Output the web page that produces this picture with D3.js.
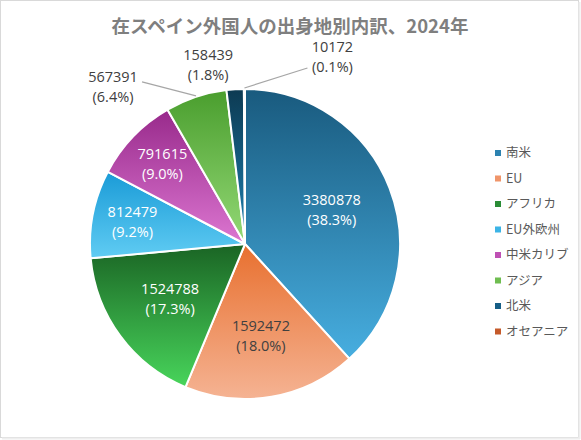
<!DOCTYPE html>
<html>
<head>
<meta charset="utf-8">
<script src="https://cdn.jsdelivr.net/npm/d3@7"></script>
<style>
  body { margin: 0; background: #fff; }
  svg { display: block; font-family: "Noto Sans CJK JP", "Noto Sans", sans-serif; }
  .lab { font-family: "Open Sans", "Noto Sans CJK JP", sans-serif; }
</style>
</head>
<body>
<div id="chart"></div>
<script>
// data
const regions = ["南米", "EU", "アフリカ", "EU外欧州", "中米カリブ", "アジア", "北米", "オセアニア"];
const populations = [3380878, 1592472, 1524788, 812479, 791615, 567391, 158439, 10172];
const titleText = "在スペイン外国人の出身地別内訳、2024年";

// gradient colours per slice (top, bottom)
const topColors = ["#195a7e", "#e8702f", "#1a6424", "#1a9bd7", "#982a8b", "#4a9e2e", "#0d3a52", "#a04a1a"];
const bottomColors = ["#47aee0", "#f5b393", "#48d55b", "#60ccf3", "#dc76d1", "#94d976", "#1e82b2", "#e07a40"];
const legendColors = ["#2c82b0", "#f0956a", "#2a8c36", "#3cb4e6", "#bf50b4", "#6fbd50", "#165e86", "#c55a2a"];

const width = 581, height = 440;
const cx = 245, cy = 244, R = 155;

const svg = d3.select("#chart").append("svg")
  .attr("width", width)
  .attr("height", height);

// frame
svg.append("rect")
  .attr("x", 0.5).attr("y", 0.5)
  .attr("width", width - 3).attr("height", height - 3)
  .attr("fill", "#fff")
  .attr("stroke", "#d9d9d9");
svg.append("line")
  .attr("x1", width - 1.5).attr("x2", width - 1.5).attr("y1", 2).attr("y2", height - 1)
  .attr("stroke", "#eeeeee").attr("stroke-width", 2);
svg.append("line")
  .attr("x1", 2).attr("x2", width - 1).attr("y1", height - 1.5).attr("y2", height - 1.5)
  .attr("stroke", "#eeeeee").attr("stroke-width", 2);

svg.append("text")
  .attr("x", 290)
  .attr("y", 33)
  .attr("text-anchor", "middle")
  .attr("font-size", "18.5px")
  .attr("font-weight", "bold")
  .attr("fill", "#7f7f7f")
  .text(titleText);

const defs = svg.append("defs");
regions.forEach((r, i) => {
  const g = defs.append("linearGradient")
    .attr("id", "grad" + i)
    .attr("x1", 0).attr("y1", 0).attr("x2", 0).attr("y2", 1);
  g.append("stop").attr("offset", "0%").attr("stop-color", topColors[i]);
  g.append("stop").attr("offset", "100%").attr("stop-color", bottomColors[i]);
});

const total = d3.sum(populations);
const pie = d3.pie().sort(null).value(d => d)(populations);
const arc = d3.arc().innerRadius(0).outerRadius(R);

const g = svg.append("g").attr("transform", `translate(${cx},${cy})`);

g.selectAll("path")
  .data(pie)
  .join("path")
  .attr("d", arc)
  .attr("fill", (d, i) => `url(#grad${i})`)
  .attr("stroke", "#fff")
  .attr("stroke-width", 2)
  .attr("stroke-linejoin", "round");

const fmtPct = v => "(" + (v / total * 100).toFixed(1) + "%)";
const mid = d => (d.startAngle + d.endAngle) / 2;

// inside labels: big slices at 0.6R, narrow ones further out
const inside = pie.filter(d => d.value / total > 0.08);
const outside = pie.filter(d => d.value / total <= 0.08);

const inLab = g.selectAll("text.in")
  .data(inside)
  .join("text")
  .attr("class", "in lab")
  .attr("text-anchor", "middle")
  .attr("font-size", "14.5px")
  .attr("fill", d => d.index === 1 ? "#404040" : "#ffffff")
  .attr("transform", d => {
    const rr = d.value / total > 0.15 ? 0.6 * R : 0.74 * R;
    const a = mid(d);
    return `translate(${Math.sin(a) * rr},${-Math.cos(a) * rr})`;
  });
inLab.append("tspan").attr("x", 0).attr("y", -5).text(d => d.value);
inLab.append("tspan").attr("x", 0).attr("y", 15).text(d => fmtPct(d.value));

// outside labels with leader lines; offsets from the slice's outer edge point
const outerOffset = [[-83, -10], [-27, -24], [88, -32]];
const outerLine = [true, false, true];

outside.forEach((d, k) => {
  const a = mid(d);
  const px = Math.sin(a) * R, py = -Math.cos(a) * R;
  const lx = px + outerOffset[k][0], ly = py + outerOffset[k][1];
  if (outerLine[k]) {
    const ex = outerOffset[k][0] < 0 ? lx + 29 : lx - 25;
    const ey = outerOffset[k][0] < 0 ? ly - 5 : ly + 11;
    g.append("polyline")
      .attr("points", `${px},${py - 1} ${ex},${ey}`)
      .attr("fill", "none")
      .attr("stroke", "#a6a6a6")
      .attr("stroke-width", 1.2);
  }
  const t = g.append("text")
    .attr("class", "lab")
    .attr("text-anchor", "middle")
    .attr("font-size", "14.5px")
    .attr("fill", "#404040")
    .attr("transform", `translate(${lx},${ly})`);
  t.append("tspan").attr("x", 0).attr("y", -5).text(d.value);
  t.append("tspan").attr("x", 0).attr("y", 15).text(fmtPct(d.value));
});

// legend
const legend = svg.append("g").attr("transform", "translate(495,153)");
const row = legend.selectAll("g")
  .data(regions)
  .join("g")
  .attr("transform", (d, i) => `translate(0,${i * 25.5})`);
row.append("rect")
  .attr("x", 0).attr("y", -3)
  .attr("width", 6).attr("height", 6)
  .attr("fill", (d, i) => legendColors[i]);
row.append("text")
  .attr("x", 11)
  .attr("y", 0)
  .attr("dy", "0.35em")
  .attr("font-size", "12.5px")
  .attr("fill", "#595959")
  .text(d => d);
</script>
</body>
</html>
